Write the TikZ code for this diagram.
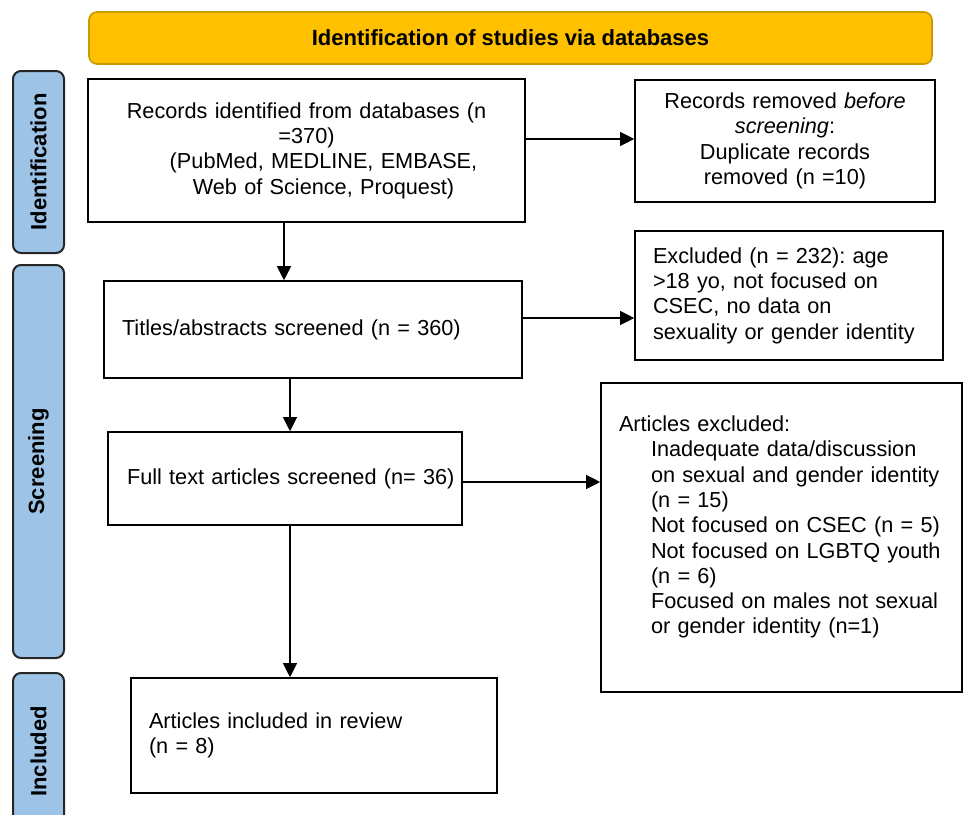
\documentclass[tikz,border=0pt]{standalone}
\usepackage{fontspec}
\setmainfont{Liberation Sans}
\usetikzlibrary{arrows.meta,positioning}
\definecolor{bannerGold}{HTML}{FFC000}
\definecolor{bannerEdge}{HTML}{C99A00}
\definecolor{phaseBlue}{HTML}{9DC3E6}
\newcommand{\reasonline}[1]{\mbox{\hspace*{32pt}#1}}
\frenchspacing
\begin{document}
\begin{tikzpicture}[x=1pt, y=-1pt,
        box/.style={draw, rectangle, line width=1.6pt, inner xsep=18pt, inner ysep=0pt, font=\fontsize{21.7}{25.3}\selectfont},% flow box
        centerbox/.style={box, align=center},% centred text
        leftbox/.style={box, align=left},% text set left
        phase/.style={draw=black!85, line width=2pt, fill=phaseBlue, rounded corners=8pt, rotate=90, minimum height=51pt, font=\bfseries\fontsize{22}{25}\selectfont},% phase tab at left
        banner/.style={draw=bannerEdge, line width=1.6pt, fill=bannerGold, rounded corners=8pt, minimum width=843pt, minimum height=52pt, font=\bfseries\fontsize{22}{25}\selectfont},
        flow/.style={-{Triangle[length=14pt, width=14pt]}, line width=1.1pt},% arrow between boxes
    ]
        \useasboundingbox (0,0) rectangle (966,814);

        % header and phases
        \node [banner] (header) at (510.5,38) {Identification of studies via databases};
        \node [phase, minimum width=182pt] (identPhase) at (38.5,162) {Identification};
        \node [phase, minimum width=393pt] (screenPhase) at (38.5,461.5) {Screening};
        \node [phase, minimum width=157pt] (inclPhase) at (38.5,751.5) {Included};

        % main column
        \node [centerbox, text width=401pt, minimum height=143pt] (records) at (306.5,150.5)
            {Records identified from databases (n\\ =370)\\ \hspace*{34pt}(PubMed, MEDLINE, EMBASE,\\ \hspace*{34pt}Web of Science, Proquest)};
        \node [leftbox, text width=382pt, minimum height=97pt] (titles) at (313,329.5)
            {Titles/abstracts screened (n = 360)};
        \node [leftbox, inner xsep=19pt, text width=316pt, minimum height=93pt] (fullText) at (285,478.5)
            {\mbox{Full text articles screened (n= 36)}};
        \node [leftbox, text width=330pt, minimum height=115pt] (included) at (314,735.5)
            {Articles included in review\\ (n = 8)};

        % side column
        \node [centerbox, text width=264pt, minimum height=122pt] (removed) at (785,141)
            {Records removed \emph{before}\\ \emph{screening}:\\ Duplicate records\\ removed (n =10)};
        \node [leftbox, text width=272pt, minimum height=129pt] (excluded) at (789,295.5)
            {Excluded (n = 232): age\\ >18 yo, not focused on\\ CSEC, no data on\\ \mbox{sexuality or gender identity}};
        \node [leftbox, text width=325pt, minimum height=309pt] (articlesExcl) at (781.5,537.5)
            {Articles excluded:\\
             \reasonline{Inadequate data/discussion}\\
             \reasonline{on sexual and gender identity}\\
             \reasonline{(n = 15)}\\
             \reasonline{Not focused on CSEC (n = 5)}\\
             \reasonline{Not focused on LGBTQ youth}\\
             \reasonline{(n = 6)}\\
             \reasonline{Focused on males not sexual}\\
             \reasonline{or gender identity (n=1)}\\ \mbox{}};

        % arrows
        \draw [flow] ([xshift=-22.5pt]records.south) -- ([xshift=-22.5pt]records.south |- titles.north);
        \draw [flow] ([xshift=-23pt]titles.south) -- ([xshift=-23pt]titles.south |- fullText.north);
        \draw [flow] ([xshift=5pt]fullText.south) -- ([xshift=5pt]fullText.south |- included.north);
        \draw [flow] ([yshift=11.5pt]records.east) -- ([yshift=11.5pt]records.east -| removed.west);
        \draw [flow] ([yshift=11.5pt]titles.east) -- ([yshift=11.5pt]titles.east -| excluded.west);
        \draw [flow] ([yshift=-3.5pt]fullText.east) -- ([yshift=-3.5pt]fullText.east -| articlesExcl.west);
    \end{tikzpicture}
\end{document}
